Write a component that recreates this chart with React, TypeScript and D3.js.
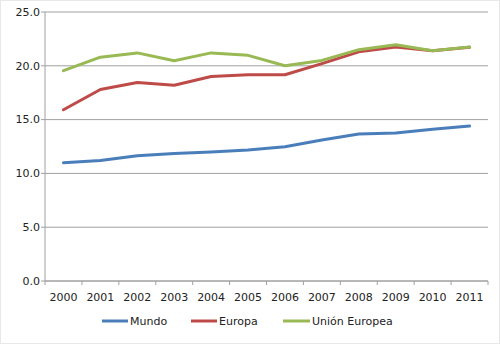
import React from "react";
import * as d3 from "d3";

const years = ["2000","2001","2002","2003","2004","2005","2006","2007","2008","2009","2010","2011"];
const mundo = [11.0, 11.2, 11.65, 11.85, 12.0, 12.17, 12.48, 13.1, 13.66, 13.75, 14.1, 14.4];
const europa = [15.92, 17.8, 18.45, 18.2, 19.0, 19.17, 19.17, 20.2, 21.3, 21.75, 21.4, 21.72];
const ue = [19.55, 20.8, 21.2, 20.47, 21.2, 20.97, 20.0, 20.5, 21.5, 21.95, 21.4, 21.75];
const yTicks = [0, 5, 10, 15, 20, 25];

const series = [
  { name: "Mundo", values: mundo, color: "#4A7EBB" },
  { name: "Europa", values: europa, color: "#BE4B48" },
  { name: "Unión Europea", values: ue, color: "#98B954" },
];

export default function App() {
  const W = 500, H = 344;
  const left = 45, right = 488, top = 12, bottom = 281;
  const x = d3.scaleBand().domain(years).range([left, right]);
  const y = d3.scaleLinear().domain([0, 25]).range([bottom, top]);
  const line = d3.line<number>().x((_, i) => (x(years[i]) as number) + x.bandwidth() / 2).y(d => y(d));
  const font = "Verdana, 'DejaVu Sans', sans-serif";
  const legendPos = [{ x1: 102, x2: 128 }, { x1: 191, x2: 217 }, { x1: 283, x2: 310 }];
  return (
    <svg width={W} height={H} style={{ position: "absolute", left: 0, top: 0 }}>
      <rect x={0.5} y={0.5} width={W - 1} height={H - 1} fill="#fff" stroke="#e8e8e8" />
      {yTicks.map(t => (
        <g key={t}>
          <line x1={left} x2={right} y1={y(t)} y2={y(t)} stroke="#a0a0a0" strokeWidth={1} />
          <line x1={left - 4} x2={left} y1={y(t)} y2={y(t)} stroke="#a0a0a0" />
          <text x={left - 5} y={y(t)} dy="0.35em" textAnchor="end" fontFamily={font} fontSize={11} fill="#222">{t.toFixed(1)}</text>
        </g>
      ))}
      <line x1={left} x2={left} y1={top} y2={bottom} stroke="#a0a0a0" />
      <line x1={left} x2={right} y1={bottom} y2={bottom} stroke="#a0a0a0" />
      {[...years, "end"].map((yr, i) => {
        const xx = left + i * x.step();
        return <line key={yr} x1={xx} x2={xx} y1={bottom} y2={bottom + 4} stroke="#a0a0a0" />;
      })}
      {years.map(yr => (
        <text key={yr} x={(x(yr) as number) + x.bandwidth() / 2} y={297} dy="0.35em" textAnchor="middle" fontFamily={font} fontSize={11} fill="#222">{yr}</text>
      ))}
      {series.map(s => (
        <path key={s.name} d={line(s.values) as string} fill="none" stroke={s.color} strokeWidth={3} strokeLinejoin="round" strokeLinecap="round" />
      ))}
      {series.map((s, i) => (
        <g key={s.name}>
          <line x1={legendPos[i].x1} x2={legendPos[i].x2} y1={321} y2={321} stroke={s.color} strokeWidth={3} />
          <text x={legendPos[i].x2 + 2} y={321} dy="0.35em" fontFamily={font} fontSize={11} fill="#222">{s.name}</text>
        </g>
      ))}
    </svg>
  );
}
